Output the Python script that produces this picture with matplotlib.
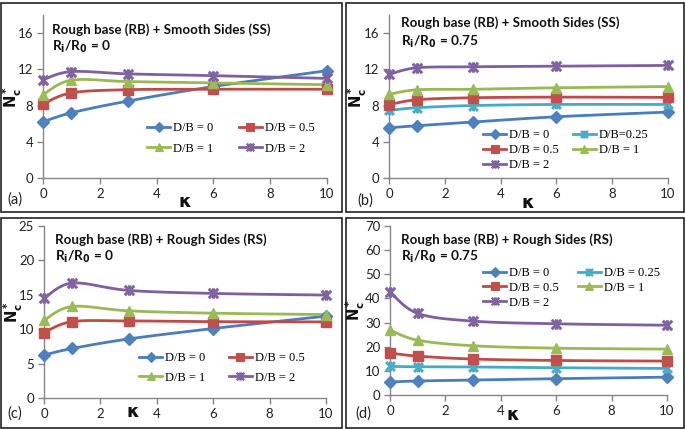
import numpy as np
import matplotlib
matplotlib.use("Agg")
import matplotlib.pyplot as plt
from matplotlib.patches import Rectangle
from matplotlib.path import Path

# ---------------- data ----------------
kappa = [0, 1, 3, 6, 10]

a_db0 = [6.2, 7.2, 8.5, 10.1, 11.85]
a_db05 = [8.15, 9.4, 9.75, 9.8, 9.8]
a_db1 = [9.2, 10.8, 10.65, 10.5, 10.3]
a_db2 = [10.85, 11.75, 11.5, 11.3, 11.0]

b_db0 = [5.55, 5.77, 6.18, 6.76, 7.28]
b_db025 = [7.46, 7.76, 8.0, 8.12, 8.12]
b_db05 = [8.09, 8.64, 8.86, 8.93, 8.9]
b_db1 = [9.23, 9.74, 9.8, 9.96, 10.1]
b_db2 = [11.43, 12.17, 12.28, 12.35, 12.43]

c_db0 = [6.24, 7.2, 8.58, 10.1, 11.9]
c_db05 = [9.5, 11.1, 11.2, 11.1, 11.06]
c_db1 = [11.3, 13.3, 12.67, 12.33, 12.13]
c_db2 = [14.47, 16.7, 15.64, 15.2, 14.96]

d_db0 = [5.4, 5.8, 6.2, 6.75, 7.4]
d_db025 = [11.85, 11.7, 11.6, 11.3, 11.0]
d_db05 = [17.4, 16.1, 14.9, 14.3, 14.05]
d_db1 = [26.9, 22.7, 20.4, 19.4, 19.0]
d_db2 = [42.7, 33.8, 30.6, 29.5, 28.9]

titles = ["Rough base (RB) + Smooth Sides (SS)", "Rough base (RB) + Smooth Sides (SS)",
          "Rough base (RB) + Rough Sides (RS)", "Rough base (RB) + Rough Sides (RS)"]
ratios = ["0", "0.75", "0", "0.75"]
panel_labels = ["(a)", "(b)", "(c)", "(d)"]
legend_labels = [
    ["D/B = 0", "D/B = 0.5", "D/B = 1", "D/B = 2"],
    ["D/B = 0", "D/B=0.25", "D/B = 0.5", "D/B = 1", "D/B = 2"],
    ["D/B = 0", "D/B = 0.5", "D/B = 1", "D/B = 2"],
    ["D/B = 0", "D/B = 0.25", "D/B = 0.5", "D/B = 1", "D/B = 2"],
]

# ---------------- styles ----------------
BLUE = "#4A7EBB"; BLUE_M = "#4F81BD"
RED = "#BE4B48"; RED_M = "#C0504D"
GREEN = "#98B954"; GREEN_M = "#9BBB59"
PURPLE = "#7D60A0"; PURPLE_M = "#8064A2"
CYAN = "#46AAC5"; CYAN_M = "#4BACC6"
STAR = Path([(-1, -1), (1, 1), (-1, 1), (1, -1), (0, -1.1), (0, 1.1)],
            [Path.MOVETO, Path.LINETO, Path.MOVETO, Path.LINETO, Path.MOVETO, Path.LINETO])

st = {
    "0": dict(color=BLUE, mfc=BLUE_M, mec=BLUE_M, marker="D", ms=6),
    "0.25": dict(color=CYAN, mfc=CYAN_M, mec=CYAN_M, marker=STAR, ms=7, mew=2.2),
    "0.5": dict(color=RED, mfc=RED_M, mec=RED_M, marker="s", ms=7),
    "1": dict(color=GREEN, mfc=GREEN_M, mec=GREEN_M, marker="^", ms=7.5),
    "2": dict(color=PURPLE, mfc=PURPLE_M, mec=PURPLE_M, marker=STAR, ms=7.5, mew=2.2),
}

W, H = 685, 429
fig = plt.figure(figsize=(6.85, 4.29), dpi=100)


def fx(px):
    return px / W


def fy(py):
    return 1 - py / H


def smooth(x, y, n=30):
    """Excel-style smoothed line (Catmull-Rom Bezier) drawn through the points."""
    x = np.asarray(x, float); y = np.asarray(y, float)
    P = np.column_stack([x, y])
    out = []
    for i in range(len(P) - 1):
        p0 = P[i - 1] if i > 0 else P[i]
        p1 = P[i]; p2 = P[i + 1]
        p3 = P[i + 2] if i + 2 < len(P) else P[i + 1]
        c1 = p1 + (p2 - p0) / 6.0
        c2 = p2 - (p3 - p1) / 6.0
        t = np.linspace(0, 1, n)[:, None]
        seg = ((1 - t) ** 3) * p1 + 3 * ((1 - t) ** 2) * t * c1 + 3 * (1 - t) * t ** 2 * c2 + t ** 3 * p2
        out.append(seg if i == 0 else seg[1:])
    s = np.vstack(out)
    return s[:, 0], s[:, 1]


TICKFONT = "Lato"
panels = [
    dict(ax=(43, 327, 178, 15), ylim=18, yt=[0, 4, 8, 12, 16],
         series=[("0", a_db0), ("0.5", a_db05), ("1", a_db1), ("2", a_db2)],
         leg=(147, 122, 2.0), lspace=0.7,
         title=(52, 30, 47), ylab=(12, 97), xlab=(185, 202), plab=(15, 200)),
    dict(ax=(389, 668, 178, 15), ylim=18, yt=[0, 4, 8, 12, 16],
         series=[("0", b_db0), ("0.25", b_db025), ("0.5", b_db05), ("1", b_db1), ("2", b_db2)],
         leg=(483, 129, 1.1), lspace=0.26,
         title=(401, 23, 42), ylab=(357, 97), xlab=(528, 203), plab=(365, 201)),
    dict(ax=(44, 326, 398, 226), ylim=25, yt=[0, 5, 10, 15, 20, 25],
         series=[("0", c_db0), ("0.5", c_db05), ("1", c_db1), ("2", c_db2)],
         leg=(139, 352, 1.85), lspace=0.62,
         title=(55, 240, 257), ylab=(13, 312), xlab=(133, 412), plab=(15, 414)),
    dict(ax=(390, 667, 395, 226), ylim=70, yt=[0, 10, 20, 30, 40, 50, 60, 70],
         series=[("0", d_db0), ("0.25", d_db025), ("0.5", d_db05), ("1", d_db1), ("2", d_db2)],
         leg=(483, 267, 1.5), lspace=0.22,
         title=(401, 240, 257), ylab=(355, 310), xlab=(513, 415), plab=(363, 414)),
]


def row_major(items, ncol=2):
    n = len(items)
    nrow = int(np.ceil(n / ncol))
    cols = [[items[r * ncol + c] for r in range(nrow) if r * ncol + c < n] for c in range(ncol)]
    return [h for col in cols for h in col]


for k, p in enumerate(panels):
    l, r, b, t = p["ax"]
    ax = fig.add_axes([fx(l), fy(b), fx(r) - fx(l), fy(t) - fy(b)])
    ax.set_xlim(0, 10)
    ax.set_ylim(0, p["ylim"])
    ax.set_xticks([0, 2, 4, 6, 8, 10])
    ax.set_yticks(p["yt"])
    for s in ["top", "right"]:
        ax.spines[s].set_visible(False)
    for s in ["left", "bottom"]:
        ax.spines[s].set_color("#868686")
        ax.spines[s].set_linewidth(1.0)
    ax.tick_params(direction="out", length=4, width=1.0, color="#868686",
                   labelsize=9.5, labelcolor="#222222", pad=3)
    for lab in ax.get_xticklabels() + ax.get_yticklabels():
        lab.set_fontfamily(TICKFONT)
    ax.patch.set_alpha(0)

    handles = []
    for j, (key, vals) in enumerate(p["series"]):
        s = st[key]
        xs, ys = smooth(kappa, vals)
        ax.plot(xs, ys, color=s["color"], lw=2.0, zorder=2, clip_on=False)
        ax.plot(kappa, vals, ls="none", marker=s["marker"], ms=s["ms"], mfc=s["mfc"],
                mec=s["mec"], mew=s.get("mew", 1), zorder=3, clip_on=False)
        h, = ax.plot([], [], color=s["color"], lw=2.0, marker=s["marker"], ms=s["ms"] * 0.8,
                     mfc=s["mfc"], mec=s["mec"], mew=s.get("mew", 1) * 0.8,
                     label=legend_labels[k][j])
        handles.append(h)

    lx, ly, cs = p["leg"]
    fig.legend(handles=row_major(handles), loc="upper left", bbox_to_anchor=(fx(lx), fy(ly)),
               bbox_transform=fig.transFigure, ncol=2, frameon=False,
               borderpad=0, borderaxespad=0, handlelength=1.85, handletextpad=0.25,
               columnspacing=cs, labelspacing=p["lspace"],
               prop=dict(family="Liberation Serif", size=9))

    tx, ty1, ty2 = p["title"]
    fig.text(fx(tx), fy(ty1), titles[k], family="Lato", weight="bold", size=9.6,
             va="center", ha="left", color="#111111")
    fig.text(fx(tx), fy(ty2), r"R$_\mathbf{i}$/R$_\mathbf{0}$ = " + ratios[k], family="Lato",
             weight="bold", size=9.8, va="center", ha="left", color="#111111")
    yx, yy = p["ylab"]
    fig.text(fx(yx), fy(yy), r"$\mathbf{N_c^*}$", size=10.5, rotation=90, va="center",
             ha="center", color="#111111")
    xx, xy = p["xlab"]
    fig.text(fx(xx), fy(xy), r"$\mathbf{\kappa}$", size=13, va="center", ha="center",
             color="#111111")
    px_, py_ = p["plab"]
    fig.text(fx(px_), fy(py_), panel_labels[k], family=TICKFONT, size=10.5, va="center",
             ha="center", color="#222222")

# panel borders
for (x0, y0, x1, y1) in [(1, 3, 342, 212), (346, 3, 684, 212), (1, 218, 342, 428), (346, 218, 684, 428)]:
    fig.patches.append(Rectangle((fx(x0), fy(y1)), fx(x1) - fx(x0), fy(y0) - fy(y1),
                                 transform=fig.transFigure, fill=False, ec="#222222", lw=1.2))

fig.savefig("out.png", dpi=100)
